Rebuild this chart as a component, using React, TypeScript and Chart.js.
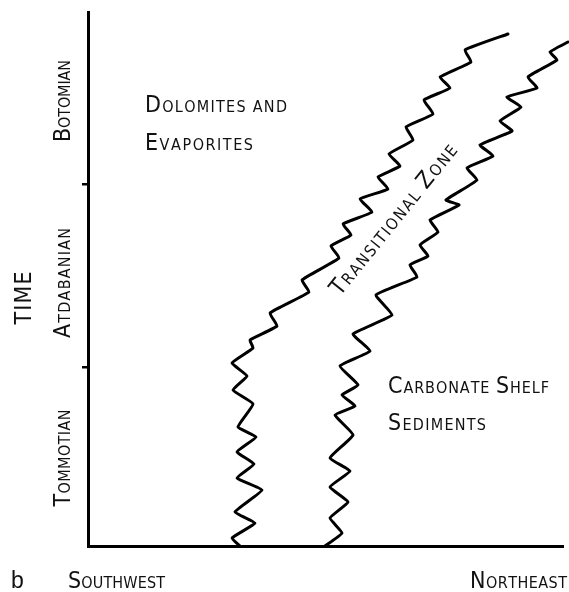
import React, { useEffect, useRef } from "react";
import { Chart, registerables } from "chart.js";
Chart.register(...registerables);

type Pt = [number, number];

// x: distance along the SW–NE section (0 = SW edge), y: time (0 = base of Tommotian)
const stageNames = ["Tommotian", "Atdabanian", "Botomian"];
const stageLabelPositions = [17.6, 52.6, 89.0];
const stageBoundaries = [35.8, 72.4];
const timeMax = 106.8;
const distanceMax = 95;
const directionLabels = ["Southwest", "Northeast"];
const axisTitle = "TIME";
const panelLetter = "b";
const faciesLabels = ["Dolomites and", "Evaporites", "Carbonate Shelf", "Sediments", "Transitional Zone"];

// western (evaporite / transitional) facies boundary
const westFront: Pt[] = [
  [30.4, 0], [28.8, 1.6], [33.4, 4.6], [29.4, 6.8], [34.8, 11.2], [29.8, 13.6],
  [33.2, 16.4], [29.8, 18.8], [33.6, 21.8], [30.0, 23.8], [33.0, 28.4], [29.0, 31.2],
  [31.8, 34.0], [28.8, 36.6], [33.0, 39.6], [32.4, 41.2],
  [37.8, 44.0], [36.4, 46.6], [44.2, 50.8], [42.8, 53.2], [50.2, 57.6], [48.6, 60.0],
  [52.6, 62.2], [51.0, 64.4], [56.8, 66.8], [54.4, 69.4], [60.0, 71.4], [58.0, 73.8],
  [62.4, 76.0], [60.2, 78.4], [65.0, 81.2], [63.6, 83.8], [69.0, 86.4], [67.2, 89.2],
  [72.4, 91.6], [70.4, 93.8], [76.6, 96.8], [75.4, 99.2], [84.0, 102.4],
];

// eastern (transitional / carbonate shelf) facies boundary
const eastFront: Pt[] = [
  [47.4, 0], [50.8, 2.6], [48.4, 5.6], [52.0, 8.8], [48.4, 11.8], [52.4, 15.0],
  [48.4, 17.6], [53.0, 22.2], [49.4, 26.2], [53.4, 28.0], [50.8, 30.2], [54.0, 32.2],
  [50.4, 36.0], [56.4, 39.0], [53.0, 42.4],
  [60.8, 46.2], [57.6, 50.2], [65.8, 53.8], [64.4, 56.2], [68.0, 58.0], [66.4, 60.2],
  [70.0, 62.8], [68.4, 65.2], [74.2, 68.2], [71.6, 69.2], [77.8, 73.2], [75.8, 75.6],
  [81.0, 78.0], [78.4, 80.2], [84.8, 83.0], [82.4, 85.0], [86.6, 87.8], [83.8, 89.8],
  [89.8, 91.6], [88.0, 93.8], [93.8, 97.2], [92.4, 98.8], [96.0, 100.8],
];

const FAMILY = '"DejaVu Sans Condensed", "Liberation Sans Narrow", "DejaVu Sans", sans-serif';
const BIG = 23;
const SMALL = 16;

function drawCaps(
  ctx: CanvasRenderingContext2D,
  text: string,
  x: number,
  y: number,
  width: number,
  align: "left" | "center" | "right"
) {
  const chars = Array.from(text).map((ch) => ({
    ch: ch.toUpperCase(),
    big: /[A-Z]/.test(ch),
  }));
  const widths = chars.map((c) => {
    ctx.font = `${c.big ? BIG : SMALL}px ${FAMILY}`;
    return ctx.measureText(c.ch).width;
  });
  const natural = widths.reduce((a, b) => a + b, 0);
  const gap = chars.length > 1 ? (width - natural) / (chars.length - 1) : 0;
  let cx = align === "left" ? x : align === "center" ? x - width / 2 : x - width;
  ctx.textAlign = "left";
  ctx.textBaseline = "alphabetic";
  chars.forEach((c, i) => {
    ctx.font = `${c.big ? BIG : SMALL}px ${FAMILY}`;
    if (c.ch !== " ") ctx.fillText(c.ch, cx, y);
    cx += widths[i] + gap;
  });
}

const labelPlugin = {
  id: "sectionLabels",
  afterDraw(chart: any) {
    const ctx: CanvasRenderingContext2D = chart.ctx;
    const ys = chart.scales.y;
    ctx.save();
    ctx.fillStyle = "#111";

    // stage names (rotated)
    const stageWidths = [97, 110, 82];
    stageNames.forEach((name, i) => {
      ctx.save();
      ctx.translate(70, ys.getPixelForValue(stageLabelPositions[i]));
      ctx.rotate(-Math.PI / 2);
      drawCaps(ctx, name, 0, 0, stageWidths[i], "center");
      ctx.restore();
    });

    // axis title
    ctx.save();
    ctx.translate(31, 298);
    ctx.rotate(-Math.PI / 2);
    drawCaps(ctx, axisTitle, 0, 0, 53, "center");
    ctx.restore();

    // facies labels
    drawCaps(ctx, faciesLabels[0], 145, 112, 142, "left");
    drawCaps(ctx, faciesLabels[1], 145, 150, 108, "left");
    drawCaps(ctx, faciesLabels[2], 388, 393, 161, "left");
    drawCaps(ctx, faciesLabels[3], 388, 430, 98, "left");

    ctx.save();
    ctx.translate(394.5, 220);
    ctx.rotate((-51 * Math.PI) / 180);
    drawCaps(ctx, faciesLabels[4], 0, 6, 188, "center");
    ctx.restore();

    // direction labels
    drawCaps(ctx, directionLabels[0], 68, 588, 97, "left");
    drawCaps(ctx, directionLabels[1], 567, 588, 97, "right");

    // panel letter
    ctx.font = '23px "Liberation Sans", Arial, sans-serif';
    ctx.textAlign = "left";
    ctx.fillText(panelLetter, 11, 588);

    ctx.restore();
  },
};

export default function App() {
  const ref = useRef<HTMLCanvasElement | null>(null);
  useEffect(() => {
    if (!ref.current) return;
    const lineStyle = {
      showLine: true,
      borderColor: "#000",
      borderWidth: 3,
      pointRadius: 0,
      tension: 0.12,
      fill: false,
      clip: false as any,
      borderJoinStyle: "round" as const,
      borderCapStyle: "round" as const,
    };
    const chart = new Chart(ref.current, {
      type: "scatter",
      data: {
        datasets: [
          { label: "west", data: westFront.map(([x, y]) => ({ x, y })), ...lineStyle },
          { label: "east", data: eastFront.map(([x, y]) => ({ x, y })), ...lineStyle },
        ],
      },
      options: {
        animation: false,
        responsive: false,
        devicePixelRatio: 1,
        layout: { padding: { left: 82, top: 12, right: 6, bottom: 46 } },
        plugins: {
          legend: { display: false },
          tooltip: { enabled: false },
        },
        scales: {
          x: {
            type: "linear",
            min: 0,
            max: distanceMax,
            border: { display: true, color: "#000", width: 3 },
            grid: { display: true, drawOnChartArea: false, drawTicks: false },
            ticks: { display: false },
          },
          y: {
            type: "linear",
            min: 0,
            max: timeMax,
            afterBuildTicks: (s: any) => {
              s.ticks = stageBoundaries.map((v) => ({ value: v }));
            },
            border: { display: true, color: "#000", width: 3 },
            grid: {
              display: true,
              drawOnChartArea: false,
              drawTicks: true,
              tickLength: 6,
              lineWidth: 2.5,
              color: "#000",
            },
            ticks: { display: false },
          },
        },
      },
      plugins: [labelPlugin],
    });
    return () => chart.destroy();
  }, []);
  return (
    <div style={{ position: "absolute", left: 0, top: 0, width: 569, height: 592, background: "#fff" }}>
      <canvas ref={ref} width={569} height={592} />
    </div>
  );
}
